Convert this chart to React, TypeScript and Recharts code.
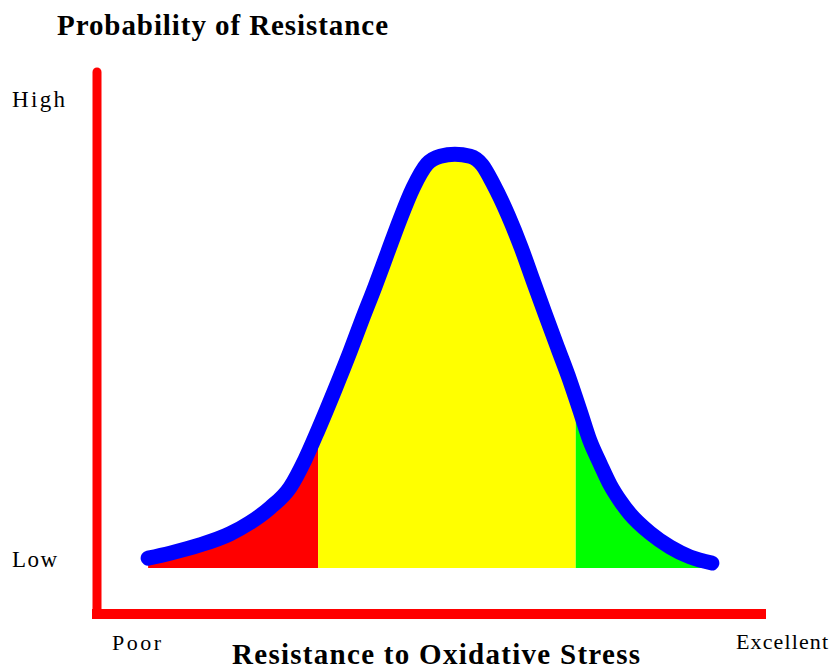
import { ComposedChart, Area, Line, XAxis, YAxis, ReferenceLine } from "recharts";

// resistance score (0 = poor, 100 = excellent)
const scores = [7.7, 11.0, 15.5, 20.0, 23.0, 26.1, 29.1, 31.3, 33.3, 35.8, 38.1, 39.9, 41.9, 43.8, 45.6, 47.6, 49.7, 51.7, 53.9, 56.2, 58.0, 59.6, 61.9, 63.9, 65.7, 67.5, 69.4, 71.2, 72.1, 72.9, 74.2, 75.8, 77.3, 78.8, 80.3, 83.3, 86.3, 89.3, 92.6];
// probability of resistance (0 = low, 100 = high)
const probability = [2.4, 3.6, 5.6, 8.3, 11.0, 14.7, 19.7, 26.3, 33.6, 43.3, 52.6, 60.3, 68.6, 76.9, 84.7, 92.5, 98.3, 100.2, 100.7, 100.2, 98.1, 93.7, 85.9, 77.9, 69.8, 61.8, 53.5, 45.7, 41.4, 37.5, 31.1, 25.3, 20.2, 16.3, 13.1, 8.5, 5.1, 2.7, 1.2];
const zoneLimits = [33.3, 72.1];

const data = scores.map((x, i) => ({
  x,
  curve: probability[i],
  poor: x <= zoneLimits[0] ? probability[i] : null,
  mid: x >= zoneLimits[0] && x <= zoneLimits[1] ? probability[i] : null,
  good: x >= zoneLimits[1] ? probability[i] : null,
}));

const yMin = -11.2;
const yMax = 120.7;
const serif = "'Liberation Serif', 'Times New Roman', serif";

export default function App() {
  return (
    <div style={{ position: "absolute", left: 0, top: 0, width: 832, height: 669, background: "#fff" }}>
      <ComposedChart width={832} height={669} data={data} margin={{ top: 72, right: 71, bottom: 55, left: 97 }}>
        <XAxis type="number" dataKey="x" domain={[0, 100]} hide />
        <YAxis type="number" domain={[yMin, yMax]} hide />
        <Area type="monotone" dataKey="poor" baseValue={0} fill="#ff0000" fillOpacity={1} stroke="none" isAnimationActive={false} />
        <Area type="monotone" dataKey="mid" baseValue={0} fill="#ffff00" fillOpacity={1} stroke="none" isAnimationActive={false} />
        <Area type="monotone" dataKey="good" baseValue={0} fill="#00ff00" fillOpacity={1} stroke="none" isAnimationActive={false} />
        <Line type="monotone" dataKey="curve" stroke="#0000ff" strokeWidth={15} strokeLinecap="round" strokeLinejoin="round" dot={false} isAnimationActive={false} />
        <ReferenceLine
          segment={[{ x: 0, y: yMin }, { x: 0, y: yMax }]}
          stroke="#ff0000"
          strokeWidth={9}
          strokeLinecap="round"
          ifOverflow="visible"
        />
        <ReferenceLine
          segment={[{ x: 0, y: yMin }, { x: 100, y: yMin }]}
          stroke="#ff0000"
          strokeWidth={10}
          strokeLinecap="square"
          ifOverflow="visible"
        />
      </ComposedChart>
      <svg width={832} height={669} style={{ position: "absolute", left: 0, top: 0, pointerEvents: "none" }}>
        <g fontFamily={serif} fill="#000">
          <text x={57} y={35} fontSize={29} fontWeight="bold" textLength={331}>Probability of Resistance</text>
          <text x={12} y={107} fontSize={23} textLength={53}>High</text>
          <text x={12} y={567} fontSize={23} textLength={45}>Low</text>
          <text x={112} y={650} fontSize={22} textLength={49}>Poor</text>
          <text x={736} y={649} fontSize={22} textLength={92}>Excellent</text>
          <text x={232} y={664} fontSize={29} fontWeight="bold" textLength={408}>Resistance to Oxidative Stress</text>
        </g>
      </svg>
    </div>
  );
}
